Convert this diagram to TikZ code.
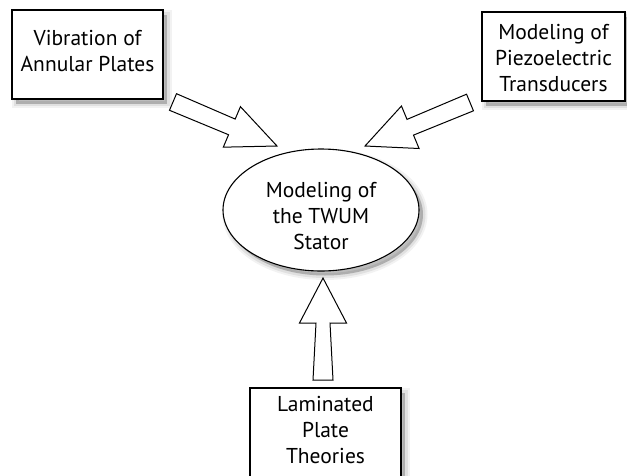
\documentclass[tikz,border=0pt]{standalone}
\usepackage{fontspec}
\setmainfont{PT Sans}
\usetikzlibrary{calc,shadows,shapes.geometric}
\newcommand\hollowarrow[6]{% tail, tip, tail half width, shaft half width at head, head half width, head length
  \coordinate (hb) at ($(#2)!#6!(#1)$);
  \draw[bigarrow] ($(#1)!#3!90:(#2)$) -- ($(hb)!#4!90:(#2)$) -- ($(hb)!#5!90:(#2)$) -- (#2)
     -- ($(hb)!#5!-90:(#2)$) -- ($(hb)!#4!-90:(#2)$) -- ($(#1)!#3!-90:(#2)$) -- cycle;
}
\begin{document}
\begin{tikzpicture}[x=1pt,y=-1pt,
  softshadow/.style={
    general shadow={draw=black, draw opacity=0.05, line width=9pt, shadow xshift=4pt, shadow yshift=-4.5pt},
    general shadow={draw=black, draw opacity=0.07, line width=5pt, shadow xshift=4pt, shadow yshift=-4.5pt},
    general shadow={fill=black, fill opacity=0.22, shadow xshift=4pt, shadow yshift=-4.5pt}},
  txt/.style={font=\fontsize{21.5}{26}\selectfont, align=center},
  box/.style={txt, draw=black, line width=1.1pt, fill=white, inner sep=0pt, softshadow},
  oval/.style={txt, ellipse, draw=black, line width=1.1pt, fill=white, inner sep=0pt, softshadow},
  bigarrow/.style={draw=black, line width=1pt, fill=white, line join=miter}]
\useasboundingbox (0,0) rectangle (627,475);
\fill[white] (0,0) rectangle (627,475);

\node[box, minimum width=151pt, minimum height=89pt] (v) at (87.5,54.5) {};
\node[txt] (vt) at (87.5,51) {Vibration of\\Annular Plates};
\node[box, minimum width=143pt, minimum height=89pt] (p) at (553.5,56.5) {};
\node[txt] (pt) at (553.5,58) {Modeling of\\Piezoelectric\\Transducers};
\node[oval, minimum width=196pt, minimum height=122pt] (s) at (321,210) {};
\node[txt] (st) at (321,216) {Modeling of\\the TWUM\\Stator};
\node[box, minimum width=151pt, minimum height=92pt] (l) at (325.5,434) {};
\node[txt] (lt) at (325.5,430) {Laminated\\Plate\\Theories};

\coordinate (at1) at (173,102); \coordinate (ah1) at (277,146);
\coordinate (at2) at (470,102.5); \coordinate (ah2) at (365,146);
\coordinate (at3) at (323,380); \coordinate (ah3) at (323,278);
\hollowarrow{at1}{ah1}{9pt}{8.5pt}{22pt}{49pt}
\hollowarrow{at2}{ah2}{9pt}{8.5pt}{23pt}{49pt}
\hollowarrow{at3}{ah3}{10pt}{7pt}{23.5pt}{45pt}
\end{tikzpicture}
\end{document}
